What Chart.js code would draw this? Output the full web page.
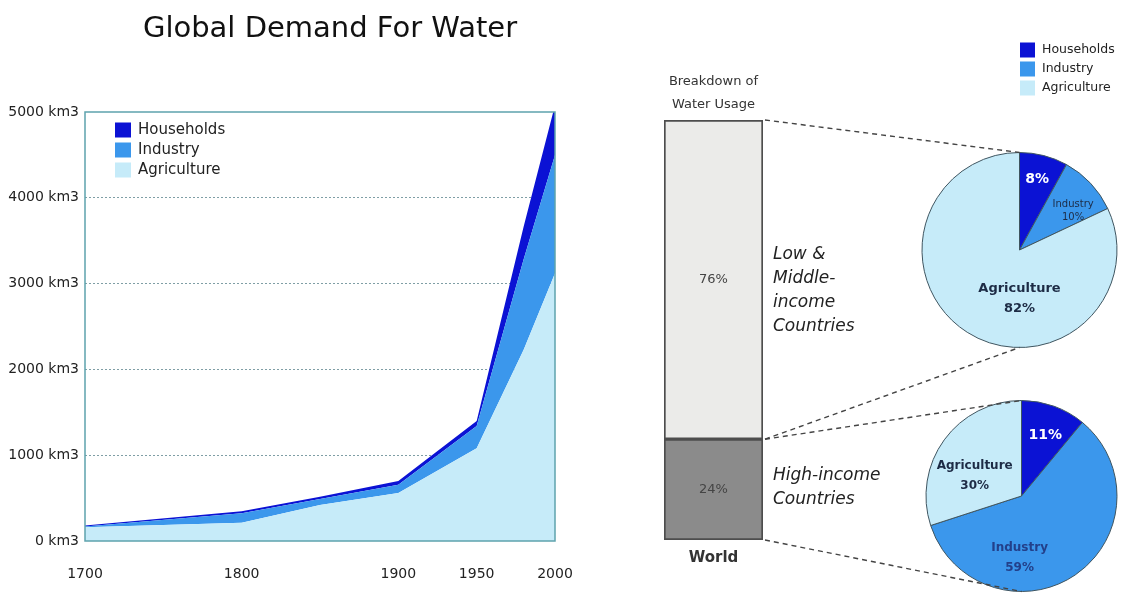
<!DOCTYPE html>
<html>
<head>
<meta charset="utf-8">
<script src="https://cdn.jsdelivr.net/npm/chart.js@4.4.0/dist/chart.umd.min.js"></script>
<style>
    body { margin: 0; background: #fff; width: 1128px; height: 597px; position: relative; overflow: hidden; }
    canvas { position: absolute; }
</style>
</head>
<body>
<canvas id="demandChart" width="660" height="597" style="left:0;top:0"></canvas>
<canvas id="worldChart" width="260" height="537" style="left:640px;top:60px"></canvas>
<canvas id="lowPie" width="228" height="330" style="left:900px;top:30px"></canvas>
<canvas id="highPie" width="228" height="237" style="left:900px;top:360px"></canvas>
<canvas id="links" width="1128" height="597" style="left:0;top:0;pointer-events:none"></canvas>

<script>
// Global demand (km3), stacked bottom to top: agriculture, industry, households
const years = [1700, 1800, 1850, 1900, 1950, 1980, 2000];
const agriculture = [160, 213, 420, 560, 1080, 2230, 3120];
const industry = [10, 110, 70, 95, 260, 1055, 1380];
const households = [10, 25, 25, 45, 60, 380, 580];
const yearTicks = [1700, 1800, 1900, 1950, 2000];
const volumeTicks = [0, 1000, 2000, 3000, 4000, 5000];

const sectors = ['Households', 'Industry', 'Agriculture'];
const sectorColors = ['#0b12d4', '#3b97ec', '#c6ebf9'];

// World split (%), bottom segment first
const incomeGroups = [['High-income', 'Countries'], ['Low &', 'Middle-', 'income', 'Countries']];
const worldShare = [24, 76];
const barFills = ['#8b8b8b', '#ebebe9'];

// Sector shares (%) in the same order as sectors
const lowIncomeUse = [8, 10, 82];
const highIncomeUse = [11, 59, 30];

Chart.defaults.font.family = '"DejaVu Sans", sans-serif';
Chart.defaults.color = '#222';
Chart.defaults.animation = false;
Chart.defaults.plugins.legend.display = false;
Chart.defaults.plugins.tooltip.enabled = false;

function drawKey(ctx, o) {
    ctx.save();
    ctx.font = o.size + 'px "DejaVu Sans", sans-serif';
    ctx.textBaseline = 'middle';
    o.items.forEach((it, i) => {
        const cy = o.y + i * o.gap;
        ctx.fillStyle = it.color;
        ctx.fillRect(o.x, cy - o.h / 2, o.w, o.h);
        ctx.fillStyle = '#222';
        ctx.fillText(it.text, o.x + o.textGap, cy);
    });
    ctx.restore();
}

// plot frame drawn over the areas
const frame = {
    id: 'frame',
    afterDatasetsDraw(chart) {
        const { ctx, chartArea: a } = chart;
        ctx.save();
        ctx.strokeStyle = '#5ea3ad';
        ctx.lineWidth = 1.5;
        ctx.strokeRect(a.left, a.top, a.right - a.left, a.bottom - a.top);
        ctx.restore();
    }
};

const cornerKey = {
    id: 'cornerKey',
    afterDraw(chart) {
        const a = chart.chartArea;
        const items = chart.data.datasets.slice().reverse()
            .map(d => ({ text: d.label, color: d.backgroundColor }));
        drawKey(chart.ctx, { items, x: a.left + 30, y: a.top + 18, gap: 20, w: 16, h: 15, textGap: 23, size: 15 });
    }
};

const stack = (label, values, color, fill) => ({
    label,
    data: years.map((y, i) => ({ x: y, y: values[i] })),
    backgroundColor: color,
    borderWidth: 0,
    pointRadius: 0,
    tension: 0,
    fill
});

new Chart(document.getElementById('demandChart'), {
    type: 'line',
    data: {
        datasets: [
            stack('Agriculture', agriculture, sectorColors[2], 'origin'),
            stack('Industry', industry, sectorColors[1], '-1'),
            stack('Households', households, sectorColors[0], '-1')
        ]
    },
    options: {
        responsive: false,
        scales: {
            x: {
                type: 'linear', min: 1700, max: 2000,
                afterBuildTicks: s => { s.ticks = yearTicks.map(v => ({ value: v })); },
                afterFit: s => { s.height = 56; },
                grid: { display: false },
                border: { display: false },
                ticks: { padding: 17, font: { size: 14 }, color: '#222', callback: v => String(v) }
            },
            y: {
                stacked: true, min: 0, max: 5000,
                afterBuildTicks: s => { s.ticks = volumeTicks.map(v => ({ value: v })); },
                afterFit: s => { s.width = 85; },
                grid: {
                    drawTicks: false,
                    color: c => (c.tick && c.tick.value > 0 && c.tick.value < 5000) ? '#7f9ea5' : 'rgba(0,0,0,0)'
                },
                border: { display: false, dash: [2, 2] },
                ticks: { padding: 6, font: { size: 14 }, color: '#222', callback: v => v + ' km3' }
            },
            // empty right-hand gutter so the title centres over the whole canvas
            gutter: {
                position: 'right',
                grid: { display: false },
                border: { display: false },
                ticks: { display: false },
                afterFit: s => { s.width = 105; }
            }
        },
        plugins: {
            title: {
                display: true,
                text: 'Global Demand For Water',
                color: '#111',
                font: { size: 29, weight: 'normal' },
                padding: { top: 12, bottom: 65.2 }
            }
        }
    },
    plugins: [frame, cornerKey]
});

// percentages and side captions for the world bar
const barNotes = {
    id: 'barNotes',
    afterDatasetsDraw(chart, args, opts) {
        const ctx = chart.ctx;
        ctx.save();
        ctx.textAlign = 'center';
        ctx.textBaseline = 'middle';
        chart.data.datasets.forEach((ds, i) => {
            const el = chart.getDatasetMeta(i).data[0];
            const mid = (el.y + el.base) / 2;
            ctx.fillStyle = '#444';
            ctx.font = '13px "DejaVu Sans", sans-serif';
            ctx.fillText(ds.data[0] + '%', el.x, mid);
            const lines = incomeGroups[i];
            ctx.fillStyle = '#222';
            ctx.textAlign = 'left';
            ctx.font = 'italic 17px "DejaVu Sans", sans-serif';
            const y0 = mid + opts.shift[i] - (lines.length - 1) * opts.lineGap / 2;
            lines.forEach((t, k) => ctx.fillText(t, el.x + el.width / 2 + 10, y0 + k * opts.lineGap));
            ctx.textAlign = 'center';
        });
        ctx.restore();
    }
};

const worldChart = new Chart(document.getElementById('worldChart'), {
    type: 'bar',
    data: {
        labels: ['World'],
        datasets: incomeGroups.map((g, i) => ({
            label: g.join(' '),
            data: [worldShare[i]],
            backgroundColor: barFills[i],
            borderColor: '#4d4d4d',
            borderWidth: 2,
            borderSkipped: false,
            barPercentage: 1,
            categoryPercentage: 1
        }))
    },
    options: {
        responsive: false,
        layout: { padding: { left: 24, right: 137 } },
        scales: {
            x: {
                stacked: true,
                grid: { display: false },
                border: { display: false },
                afterFit: s => { s.height = 57; },
                ticks: { padding: 1, color: '#333', font: { size: 15, weight: 'bold' } }
            },
            y: { stacked: true, display: false, min: 0, max: 100 }
        },
        plugins: {
            title: {
                display: true,
                fullSize: false,
                text: ['Breakdown of', 'Water Usage'],
                color: '#333',
                font: { size: 13, weight: 'normal', lineHeight: 1.7 },
                padding: { top: 11, bottom: 4.8 }
            },
            barNotes: { shift: [-2, 11], lineGap: 24 }
        }
    },
    plugins: [barNotes]
});

// labels inside the pie slices
const sliceNotes = {
    id: 'sliceNotes',
    afterDatasetsDraw(chart, args, opts) {
        const ctx = chart.ctx;
        const ds = chart.data.datasets[0];
        ctx.save();
        ctx.textAlign = 'center';
        ctx.textBaseline = 'middle';
        chart.getDatasetMeta(0).data.forEach((arc, i) => {
            const n = opts.notes[i];
            const lines = n.name ? [chart.data.labels[i], ds.data[i] + '%'] : [ds.data[i] + '%'];
            const cx = arc.x + n.at[0] * arc.outerRadius;
            const cy = arc.y + n.at[1] * arc.outerRadius;
            ctx.fillStyle = n.color;
            ctx.font = (n.bold ? 'bold ' : '') + n.size + 'px "DejaVu Sans", sans-serif';
            const y0 = cy - (lines.length - 1) * n.gap / 2;
            lines.forEach((t, k) => ctx.fillText(t, cx, y0 + k * n.gap));
        });
        ctx.restore();
    }
};

const sectorKey = {
    id: 'sectorKey',
    afterDraw(chart, args, opts) {
        if (!opts.show) return;
        const items = chart.data.labels.map((t, i) => ({ text: t, color: sectorColors[i] }));
        drawKey(chart.ctx, { items, x: 120, y: 20, gap: 19, w: 15, h: 15, textGap: 22, size: 12.5 });
    }
};

function pieChart(id, values, padding, notes, show) {
    return new Chart(document.getElementById(id), {
        type: 'pie',
        data: {
            labels: sectors,
            datasets: [{ data: values, backgroundColor: sectorColors, borderColor: '#3f5560', borderWidth: 1 }]
        },
        options: {
            responsive: false,
            layout: { padding },
            plugins: { sliceNotes: { notes }, sectorKey: { show } }
        },
        plugins: [sliceNotes, sectorKey]
    });
}

const lowPie = pieChart('lowPie', lowIncomeUse, { left: 21.5, right: 10.5, top: 122, bottom: 12 }, [
    { at: [0.18, -0.72], color: '#fff', size: 14, bold: true, gap: 16 },
    { at: [0.55, -0.40], color: '#1d2b45', size: 10, bold: false, gap: 13, name: true },
    { at: [0.0, 0.50], color: '#1d2b45', size: 13, bold: true, gap: 20, name: true }
], true);

const highPie = pieChart('highPie', highIncomeUse, { left: 25.5, right: 10.5, top: 40, bottom: 5 }, [
    { at: [0.25, -0.64], color: '#fff', size: 14, bold: true, gap: 16 },
    { at: [-0.02, 0.65], color: '#23408a', size: 12, bold: true, gap: 20, name: true },
    { at: [-0.49, -0.21], color: '#1d2b45', size: 12, bold: true, gap: 20, name: true }
], false);

// dashed connectors from the world bar to the two pies
(function () {
    const ctx = document.getElementById('links').getContext('2d');
    const off = ch => ({ x: ch.canvas.offsetLeft, y: ch.canvas.offsetTop });
    const ends = ch => {
        const o = off(ch), a = ch.getDatasetMeta(0).data[0];
        return { x: o.x + a.x, top: o.y + a.y - a.outerRadius, bottom: o.y + a.y + a.outerRadius };
    };
    const bo = off(worldChart);
    const high = worldChart.getDatasetMeta(0).data[0];
    const low = worldChart.getDatasetMeta(1).data[0];
    const bx = bo.x + low.x + low.width / 2 + 2;
    const p1 = ends(lowPie), p2 = ends(highPie);
    ctx.setLineDash([5, 4]);
    ctx.strokeStyle = '#444';
    ctx.lineWidth = 1.4;
    [
        [bo.y + low.y, p1.x, p1.top],
        [bo.y + low.base, p1.x, p1.bottom],
        [bo.y + low.base, p2.x, p2.top],
        [bo.y + high.base, p2.x, p2.bottom]
    ].forEach(([y1, x2, y2]) => {
        ctx.beginPath();
        ctx.moveTo(bx, y1);
        ctx.lineTo(x2, y2);
        ctx.stroke();
    });
})();
</script>
</body>
</html>
